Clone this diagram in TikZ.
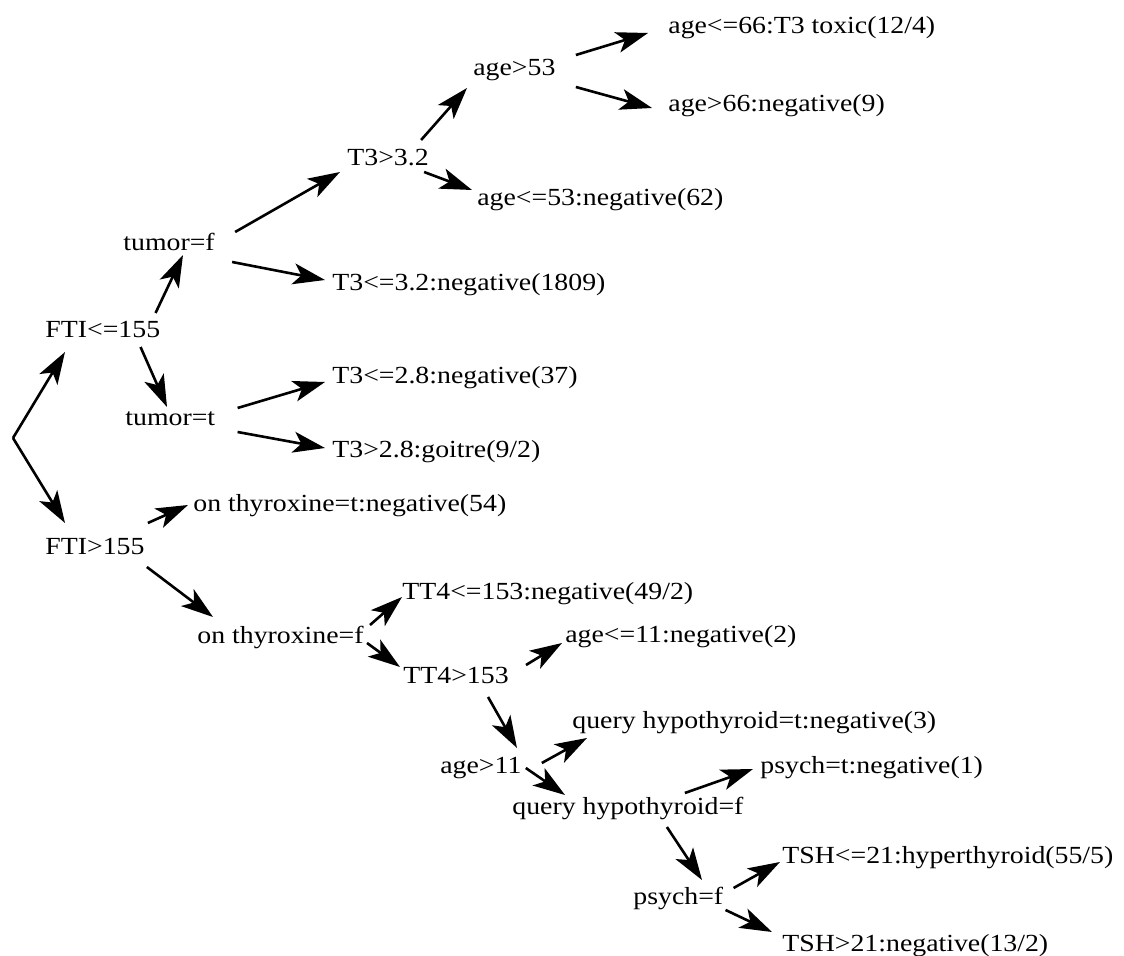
\documentclass[tikz,border=0pt]{standalone}
\usepackage{fontspec}
\setmainfont{Liberation Serif}[FakeStretch=1.13]
\usetikzlibrary{arrows.meta}

\begin{document}
\begin{tikzpicture}[x=0.5pt, y=-0.5pt,
    leaf/.style={anchor=west, inner sep=2pt, text height=8.5pt, text depth=2.5pt,
                 font=\fontsize{12.3}{14}\selectfont},
    arr/.style={line width=1.3pt, -{Stealth[length=16pt, width=10.5pt, inset=4pt]}}]
  \useasboundingbox[fill=white] (0,0) rectangle (1124,956);

  % root of the tree
  \coordinate (root) at (13,438);

  % first split on FTI
  \node[leaf] (fti1) at (41,332) {FTI<=155};
  \node[leaf] (fti2) at (41,548) {FTI>155};

  % FTI<=155 branch
  \node[leaf] (tumf)   at (119,245) {tumor=f};
  \node[leaf] (tumt)   at (121,420) {tumor=t};
  \node[leaf] (t3a)    at (343,160) {T3>3.2};
  \node[leaf] (t3b)    at (328,285) {T3<=3.2:negative(1809)};
  \node[leaf] (t3c)    at (328,378) {T3<=2.8:negative(37)};
  \node[leaf] (t3d)    at (328,452) {T3>2.8:goitre(9/2)};
  \node[leaf] (age53)  at (469,70)  {age>53};
  \node[leaf] (age53n) at (473,200) {age<=53:negative(62)};
  \node[leaf] (age66a) at (664,28)  {age<=66:T3 toxic(12/4)};
  \node[leaf] (age66b) at (664,106) {age>66:negative(9)};

  % FTI>155 branch
  \node[leaf] (thyt)   at (189,506) {on thyroxine=t:negative(54)};
  \node[leaf] (thyf)   at (193,637) {on thyroxine=f};
  \node[leaf] (tt4a)   at (398,593) {TT4<=153:negative(49/2)};
  \node[leaf] (tt4b)   at (399,677) {TT4>153};
  \node[leaf] (age11a) at (561,636) {age<=11:negative(2)};
  \node[leaf] (age11b) at (436,767) {age>11};
  \node[leaf] (qht)    at (568,722) {query hypothyroid=t:negative(3)};
  \node[leaf] (qhf)    at (508,808) {query hypothyroid=f};
  \node[leaf] (psyt)   at (756,767) {psych=t:negative(1)};
  \node[leaf] (psyf)   at (629,898) {psych=f};
  \node[leaf] (tsha)   at (778,857) {TSH<=21:hyperthyroid(55/5)};
  \node[leaf] (tshb)   at (778,945) {TSH>21:negative(13/2)};

  % edges of the upper half
  \draw[arr] (root) -- ([shift={(24,20)}]fti1.west);
  \draw[arr] ([shift={(-9,-19)}]fti1.east) -- ([shift={(64,10)}]tumf.west);
  \draw[arr] ([shift={(-24,15)}]fti1.east) -- ([shift={(46,-13)}]tumt.west);
  \draw[arr] ([shift={(16,-13)}]tumf.east) -- ([shift={(-3,12)}]t3a.west);
  \draw[arr] ([shift={(13,17)}]tumf.east) -- ([shift={(-3,-5)}]t3b.west);
  \draw[arr] ([shift={(18,-12)}]tumt.east) -- ([shift={(-3,4)}]t3c.west);
  \draw[arr] ([shift={(18,12)}]tumt.east) -- ([shift={(-3,-4)}]t3d.west);
  \draw[arr] ([shift={(-12,-20)}]t3a.east) -- ([shift={(-2,18)}]age53.west);
  \draw[arr] ([shift={(-9,12)}]t3a.east) -- ([shift={(-1,-10)}]age53n.west);
  \draw[arr] ([shift={(16,-15)}]age53.east) -- ([shift={(-16,5)}]age66a.west);
  \draw[arr] ([shift={(16,17)}]age53.east) -- ([shift={(-12,2)}]age66b.west);

  % edges of the lower half
  \draw[arr] (root) -- ([shift={(24,-25)}]fti2.west);
  \draw[arr] ([shift={(-1,-25)}]fti2.east) -- ([shift={(-1,-1)}]thyt.west);
  \draw[arr] ([shift={(-2,19)}]fti2.east) -- ([shift={(20,-20)}]thyf.west);
  \draw[arr] ([shift={(2,-12)}]thyf.east) -- ([shift={(4,4)}]tt4a.west);
  \draw[arr] ([shift={(-1,6)}]thyf.east) -- ([shift={(1,-10)}]tt4b.west);
  \draw[arr] ([shift={(13,-12)}]tt4b.east) -- ([shift={(1,7)}]age11a.west);
  \draw[arr] ([shift={(-25,20)}]tt4b.east) -- ([shift={(81,-19)}]age11b.west);
  \draw[arr] ([shift={(16,-4)}]age11b.east) -- ([shift={(19,16)}]qht.west);
  \draw[arr] ([shift={(0,1)}]age11b.east) -- ([shift={(57,-13)}]qhf.west);
  \draw[arr] ([shift={(-63,-15)}]qhf.east) -- ([shift={(-3,2)}]psyt.west);
  \draw[arr] ([shift={(-81,19)}]qhf.east) -- ([shift={(73,-18)}]psyf.west);
  \draw[arr] ([shift={(6,-10)}]psyf.east) -- ([shift={(2,5)}]tsha.west);
  \draw[arr] ([shift={(-2,12)}]psyf.east) -- ([shift={(-6,-13)}]tshb.west);
\end{tikzpicture}
\end{document}
